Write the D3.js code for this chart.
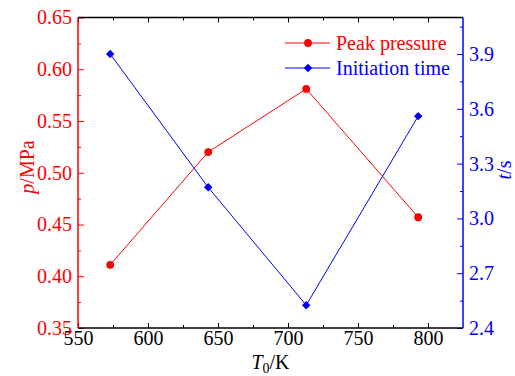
<!DOCTYPE html>
<html>
<head>
<meta charset="utf-8">
<script src="https://cdn.jsdelivr.net/npm/d3@7"></script>
<style>
body { margin: 0; background: #fff; }
text { font-family: "Liberation Serif", "Times New Roman", serif; }
</style>
</head>
<body>
<svg></svg>
<script>
const svgWidth = 515
const svgHeight = 376
const margins = {top: 17.5, bottom: 48, left: 78, right: 52}
const plotWidth = svgWidth - margins.left - margins.right
const plotHeight = svgHeight - margins.top - margins.bottom

// data
const temps = [573, 643, 713, 793]
const peakPressure = [0.411, 0.520, 0.581, 0.457]
const initTime = [3.90, 3.17, 2.525, 3.56]
const xTicks = [550, 600, 650, 700, 750, 800]
const pTicks = [0.35, 0.40, 0.45, 0.50, 0.55, 0.60, 0.65]
const tTicks = [2.4, 2.7, 3.0, 3.3, 3.6, 3.9]

const red = "#ff0000"
const blue = "#0000ff"
const serif = "'Liberation Serif', 'Times New Roman', serif"

const svg = d3.select("svg")
  .attr("width", svgWidth)
  .attr("height", svgHeight)

const xScale = d3.scaleLinear().domain([550, 825]).range([0, plotWidth])
const pScale = d3.scaleLinear().domain([0.35, 0.65]).range([plotHeight, 0])
const tScale = d3.scaleLinear().domain([2.4, 4.1]).range([plotHeight, 0])

const plot = svg.append("g")
  .attr("transform", `translate(${margins.left},${margins.top})`)

// minor ticks first
const xMinor = d3.range(575, 825, 50)
const pMinor = d3.range(0.375, 0.65, 0.05)
const tMinor = d3.range(2.55, 4.1, 0.3)

function styleAxis(g, color) {
  g.attr("font-family", serif)
  g.select(".domain").remove()
  g.selectAll("line").attr("stroke", color).attr("stroke-width", 1)
  g.selectAll("text").attr("fill", color).attr("font-size", 20)
    .style("font-family", serif)
}

plot.append("g")
  .attr("transform", `translate(0,${plotHeight})`)
  .call(d3.axisBottom(xScale).tickValues(xMinor).tickSize(-3).tickFormat(""))
  .call(g => styleAxis(g, "#000"))
plot.append("g")
  .call(d3.axisTop(xScale).tickValues(xMinor).tickSize(-3).tickFormat(""))
  .call(g => styleAxis(g, "#000"))
plot.append("g")
  .call(d3.axisLeft(pScale).tickValues(pMinor).tickSize(-3).tickFormat(""))
  .call(g => styleAxis(g, red))
plot.append("g")
  .attr("transform", `translate(${plotWidth},0)`)
  .call(d3.axisRight(tScale).tickValues(tMinor).tickSize(-3).tickFormat(""))
  .call(g => styleAxis(g, blue))

// major ticks
plot.append("g")
  .attr("transform", `translate(0,${plotHeight})`)
  .call(d3.axisBottom(xScale).tickValues(xTicks).tickSize(-5).tickPadding(3).tickFormat(d3.format("d")))
  .call(g => styleAxis(g, "#000"))
plot.append("g")
  .call(d3.axisTop(xScale).tickValues(xTicks).tickSize(-5).tickFormat(""))
  .call(g => styleAxis(g, "#000"))
plot.append("g")
  .call(d3.axisLeft(pScale).tickValues(pTicks).tickSize(-6).tickPadding(6).tickFormat(d3.format(".2f")))
  .call(g => styleAxis(g, red))
plot.append("g")
  .attr("transform", `translate(${plotWidth},0)`)
  .call(d3.axisRight(tScale).tickValues(tTicks).tickSize(-6).tickPadding(6).tickFormat(d3.format(".1f")))
  .call(g => styleAxis(g, blue))

// frame
plot.append("line").attr("x1", 0).attr("x2", plotWidth).attr("y1", 0).attr("y2", 0)
  .attr("stroke", "#000").attr("stroke-width", 1.5)
plot.append("line").attr("x1", 0).attr("x2", plotWidth).attr("y1", plotHeight).attr("y2", plotHeight)
  .attr("stroke", "#000").attr("stroke-width", 1.5)
plot.append("line").attr("x1", 0).attr("x2", 0).attr("y1", 0).attr("y2", plotHeight)
  .attr("stroke", red).attr("stroke-width", 1.5)
plot.append("line").attr("x1", plotWidth).attr("x2", plotWidth).attr("y1", 0).attr("y2", plotHeight)
  .attr("stroke", blue).attr("stroke-width", 1.5)

// series
const pData = temps.map((t, i) => ({x: t, y: peakPressure[i]}))
const tData = temps.map((t, i) => ({x: t, y: initTime[i]}))

plot.append("path")
  .datum(pData)
  .attr("fill", "none").attr("stroke", red).attr("stroke-width", 1)
  .attr("d", d3.line().x(d => xScale(d.x)).y(d => pScale(d.y)))
plot.append("path")
  .datum(tData)
  .attr("fill", "none").attr("stroke", blue).attr("stroke-width", 1)
  .attr("d", d3.line().x(d => xScale(d.x)).y(d => tScale(d.y)))

const circle = d3.symbol().type(d3.symbolCircle).size(48)
const square = d3.symbol().type(d3.symbolSquare).size(36)

plot.selectAll(".pdot")
  .data(pData).enter().append("path")
  .attr("transform", d => `translate(${xScale(d.x)},${pScale(d.y)})`)
  .attr("d", circle).attr("fill", red)
plot.selectAll(".tdot")
  .data(tData).enter().append("path")
  .attr("transform", d => `translate(${xScale(d.x)},${tScale(d.y)}) rotate(45)`)
  .attr("d", square).attr("fill", blue)

// legend
const legend = [
  {label: "Peak pressure", color: red, sym: circle, rot: 0, y: 43},
  {label: "Initiation time", color: blue, sym: square, rot: 45, y: 68}
]
legend.forEach(l => {
  svg.append("line").attr("x1", 285).attr("x2", 330).attr("y1", l.y).attr("y2", l.y)
    .attr("stroke", l.color).attr("stroke-width", 1.2)
  svg.append("path").attr("transform", `translate(308,${l.y}) rotate(${l.rot})`).attr("d", l.sym).attr("fill", l.color)
  svg.append("text").attr("x", 336).attr("y", l.y + 7)
    .attr("font-size", 20).attr("fill", l.color).text(l.label)
})

// axis titles
const xt = svg.append("text")
  .attr("x", margins.left + plotWidth / 2).attr("y", 369)
  .attr("text-anchor", "middle").attr("font-size", 20).attr("fill", "#000")
xt.append("tspan").attr("font-style", "italic").text("T")
xt.append("tspan").attr("font-size", 14).attr("dy", 4).text("0")
xt.append("tspan").attr("dy", -4).text("/K")

const yl = svg.append("text")
  .attr("transform", "translate(34,167) rotate(-90)")
  .attr("text-anchor", "middle").attr("font-size", 20).attr("fill", red)
yl.append("tspan").attr("font-style", "italic").text("p")
yl.append("tspan").text("/MPa")

const yr = svg.append("text")
  .attr("transform", "translate(511,170) rotate(-90)")
  .attr("text-anchor", "middle").attr("font-size", 20).attr("fill", blue)
yr.append("tspan").attr("font-style", "italic").text("t")
yr.append("tspan").text("/s")
</script>
</body>
</html>
